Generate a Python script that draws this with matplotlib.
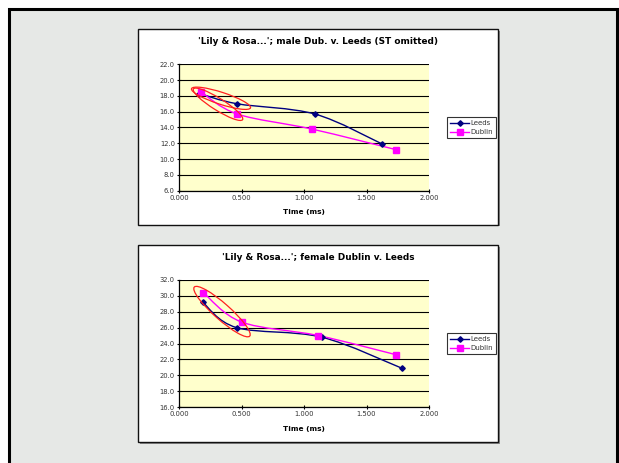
import numpy as np
import matplotlib
matplotlib.use("Agg")
import matplotlib.pyplot as plt
from matplotlib.path import Path
from matplotlib.patches import PathPatch, Rectangle, Ellipse
from matplotlib.lines import Line2D
from matplotlib.transforms import ScaledTranslation

# male speakers (ST omitted)
male_leeds_t = [0.163, 0.467, 1.088, 1.627]
male_leeds_v = [18.3, 17.0, 15.7, 11.9]
male_dublin_t = [0.176, 0.467, 1.064, 1.736]
male_dublin_v = [18.5, 15.7, 13.8, 11.2]

# female speakers
fem_leeds_t = [0.189, 0.461, 1.141, 1.781]
fem_leeds_v = [29.2, 26.0, 24.8, 20.9]
fem_dublin_t = [0.195, 0.501, 1.115, 1.733]
fem_dublin_v = [30.4, 26.7, 25.0, 22.6]

titles = ["'Lily & Rosa...'; male Dub. v. Leeds (ST omitted)",
          "'Lily & Rosa...'; female Dublin v. Leeds"]

LEEDS = "#000080"
DUBLIN = "#FF00FF"
W, H = 619, 463


def smooth_path(xs, ys):
    # Bezier smoothing through the points (same idea as spreadsheet "smoothed line")
    pts = np.column_stack([xs, ys]).astype(float)
    n = len(pts)
    verts = [pts[0]]
    codes = [Path.MOVETO]
    for i in range(n - 1):
        p0 = pts[max(i - 1, 0)]
        p1 = pts[i]
        p2 = pts[i + 1]
        p3 = pts[min(i + 2, n - 1)]
        verts += [p1 + (p2 - p0) / 6, p2 - (p3 - p1) / 6, p2]
        codes += [Path.CURVE4] * 3
    return Path(verts, codes)


def fig_rect(x0, y0, x1, y1):
    # pixel box (top-left origin) -> figure fraction
    return [x0 / W, 1 - y1 / H, (x1 - x0) / W, (y1 - y0) / H]


fig = plt.figure(figsize=(W / 100, H / 100), dpi=100)
fig.patch.set_facecolor("white")

# outer slide frame
fig.add_artist(Rectangle((9 / W, -0.05), (617 - 9) / W, 1.05 - 9 / H,
                         transform=fig.transFigure, facecolor="#E6E8E6",
                         edgecolor="black", lw=2.2, zorder=0))

charts = [
    dict(box=(138, 29, 498, 225), ax=(179, 64.3, 429, 190.7), title_y=41,
         ylim=(6, 22), leeds=(male_leeds_t, male_leeds_v),
         dublin=(male_dublin_t, male_dublin_v), leg_top=117,
         rings=[(0.336, 17.7, 62, 12, -18), (0.312, 16.94, 58, 12, -32)]),
    dict(box=(138, 245, 498, 442), ax=(179, 280, 429, 407), title_y=257,
         ylim=(16, 32), leeds=(fem_leeds_t, fem_leeds_v),
         dublin=(fem_dublin_t, fem_dublin_v), leg_top=333,
         rings=[(0.344, 28.02, 74, 16, -41.5)]),
]

for c, title in zip(charts, titles):
    bx0, by0, bx1, by1 = c["box"]
    # chart area with a small shadow
    fig.add_artist(Rectangle((bx0 / W + 1.5 / W, 1 - by1 / H - 1.5 / H),
                             (bx1 - bx0) / W, (by1 - by0) / H,
                             transform=fig.transFigure, facecolor="#8a8a8a",
                             edgecolor="none", zorder=1))
    fig.add_artist(Rectangle((bx0 / W, 1 - by1 / H), (bx1 - bx0) / W, (by1 - by0) / H,
                             transform=fig.transFigure, facecolor="white",
                             edgecolor="#111111", lw=1.0, zorder=1))
    fig.text((bx0 + bx1) / 2 / W, 1 - c["title_y"] / H, title, ha="center",
             va="center", fontsize=6.4, fontweight="bold", zorder=3)

    ax = fig.add_axes(fig_rect(*c["ax"]))
    ax.set_zorder(2)
    ax.set_facecolor("#FFFFCC")
    ax.set_xlim(0, 2)
    ax.set_ylim(*c["ylim"])
    ax.set_xticks(np.arange(0, 2.01, 0.5))
    ax.set_xticklabels([f"{v:.3f}" for v in np.arange(0, 2.01, 0.5)])
    yt = np.arange(c["ylim"][0], c["ylim"][1] + 0.1, 2)
    ax.set_yticks(yt)
    ax.set_yticklabels([f"{v:.1f}" for v in yt])
    ax.yaxis.grid(True, color="black", lw=0.8)
    ax.set_axisbelow(True)
    for s in ("top", "right"):
        ax.spines[s].set_visible(False)
    for s in ("left", "bottom"):
        ax.spines[s].set_color("black")
        ax.spines[s].set_linewidth(0.9)
    ax.tick_params(axis="both", direction="inout", length=3, width=0.8,
                   labelsize=4.9, labelcolor="#333333", pad=1.5)
    ax.set_xlabel("Time (ms)", fontsize=5.3, fontweight="bold", labelpad=6)

    for (xs, ys), col, mk, ms in [(c["leeds"], LEEDS, "D", 2.8),
                                  (c["dublin"], DUBLIN, "s", 4.4)]:
        ax.add_patch(PathPatch(smooth_path(xs, ys), fill=False,
                               edgecolor=col, lw=1.0, zorder=3))
        ax.plot(xs, ys, ls="none", marker=mk, ms=ms, color=col,
                mec=col, zorder=4)

    # red rings drawn in pixel size around a data-space centre
    for cx, cy, w, h, ang in c["rings"]:
        tr = fig.dpi_scale_trans + ScaledTranslation(cx, cy, ax.transData)
        ax.add_patch(Ellipse((0, 0), w / 100, h / 100, angle=ang,
                             transform=tr, fill=False, edgecolor="#FF2020",
                             lw=0.9, zorder=5, clip_on=False))

    handles = [Line2D([], [], color=LEEDS, marker="D", ms=2.8, lw=1.0),
               Line2D([], [], color=DUBLIN, marker="s", ms=4.4, lw=1.0)]
    leg = fig.legend(handles, ["Leeds", "Dublin"], loc="upper left",
                     bbox_to_anchor=(447 / W, 1 - c["leg_top"] / H),
                     bbox_transform=fig.transFigure, fontsize=5.0,
                     frameon=True, fancybox=False, borderaxespad=0,
                     borderpad=0.45, handlelength=2.7, handletextpad=0.2,
                     labelspacing=0.45)
    leg.get_frame().set_edgecolor("black")
    leg.get_frame().set_linewidth(0.8)
    for t in leg.get_texts():
        t.set_color("#333333")
    leg.set_zorder(4)

fig.savefig("out.png", dpi=100)
